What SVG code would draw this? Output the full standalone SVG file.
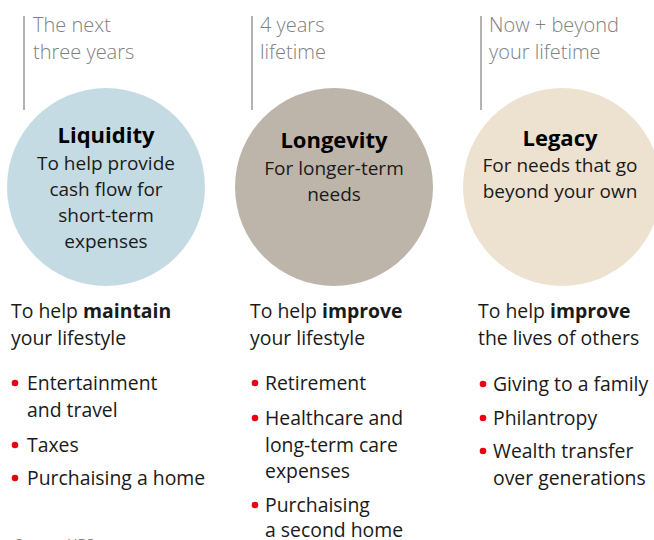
<svg xmlns="http://www.w3.org/2000/svg" width="654" height="540" viewBox="0 0 654 540">
<style>
  .hdr { font-family: "Open Sans", "Noto Sans", sans-serif; font-size: 20px; fill: #808080; font-weight: 300; }
  .title { font-family: "Open Sans", "Noto Sans", sans-serif; font-size: 22px; font-weight: 700; fill: #000; text-anchor: middle; }
  .sub { font-family: "Open Sans", "Noto Sans", sans-serif; font-size: 19px; fill: #1a1a1a; text-anchor: middle; }
  .body { font-family: "Open Sans", "Noto Sans", sans-serif; font-size: 19.4px; fill: #1a1a1a; }
  .src { font-family: "Open Sans", "Noto Sans", sans-serif; font-size: 14px; fill: #808080; }
  .vline { stroke: #b3b3b3; stroke-width: 2; }
  .dot { fill: #e60012; }
</style>
<g id="liquidity">
  <line class="vline" x1="24" y1="16" x2="24" y2="110"/>
  <text class="hdr" x="33" y="32">The next</text>
  <text class="hdr" x="33" y="59">three years</text>
  <circle cx="106" cy="187" r="99" fill="#c5dbe4"/>
  <text class="title" x="106" y="143">Liquidity</text>
  <text class="sub" x="106" y="170">To help provide</text>
  <text class="sub" x="106" y="196">cash flow for</text>
  <text class="sub" x="106" y="222">short-term</text>
  <text class="sub" x="106" y="248">expenses</text>
  <text class="body" x="11" y="318">To help <tspan font-weight="700">maintain</tspan></text>
  <text class="body" x="11" y="345">your lifestyle</text>
  <circle class="dot" cx="15" cy="383" r="3.3"/>
  <text class="body" x="27" y="390">Entertainment</text>
  <text class="body" x="27" y="417">and travel</text>
  <circle class="dot" cx="15" cy="445" r="3.3"/>
  <text class="body" x="27" y="452">Taxes</text>
  <circle class="dot" cx="15" cy="478" r="3.3"/>
  <text class="body" x="27" y="485">Purchaising a home</text>
</g>
<g id="longevity">
  <line class="vline" x1="252" y1="16" x2="252" y2="110"/>
  <text class="hdr" x="260" y="32">4 years</text>
  <text class="hdr" x="260" y="59">lifetime</text>
  <circle cx="334" cy="187" r="99" fill="#bdb5aa"/>
  <text class="title" x="334" y="148">Longevity</text>
  <text class="sub" x="334" y="175">For longer-term</text>
  <text class="sub" x="334" y="201">needs</text>
  <text class="body" x="250" y="318">To help <tspan font-weight="700">improve</tspan></text>
  <text class="body" x="250" y="345">your lifestyle</text>
  <circle class="dot" cx="255" cy="383" r="3.3"/>
  <text class="body" x="265" y="390">Retirement</text>
  <circle class="dot" cx="255" cy="418" r="3.3"/>
  <text class="body" x="265" y="425">Healthcare and</text>
  <text class="body" x="265" y="452">long-term care</text>
  <text class="body" x="265" y="478">expenses</text>
  <circle class="dot" cx="255" cy="505" r="3.3"/>
  <text class="body" x="265" y="512">Purchaising</text>
  <text class="body" x="265" y="537">a second home</text>
</g>
<g id="legacy">
  <line class="vline" x1="481" y1="16" x2="481" y2="110"/>
  <text class="hdr" x="489" y="32">Now + beyond</text>
  <text class="hdr" x="489" y="59">your lifetime</text>
  <circle cx="562" cy="187" r="99" fill="#ede1d0"/>
  <text class="title" x="560" y="146">Legacy</text>
  <text class="sub" x="560" y="172">For needs that go</text>
  <text class="sub" x="560" y="198">beyond your own</text>
  <text class="body" x="478" y="318">To help <tspan font-weight="700">improve</tspan></text>
  <text class="body" x="478" y="345">the lives of others</text>
  <circle class="dot" cx="483" cy="384" r="3.3"/>
  <text class="body" x="493" y="391">Giving to a family</text>
  <circle class="dot" cx="483" cy="418" r="3.3"/>
  <text class="body" x="493" y="425">Philantropy</text>
  <circle class="dot" cx="483" cy="451" r="3.3"/>
  <text class="body" x="493" y="458">Wealth transfer</text>
  <text class="body" x="493" y="485">over generations</text>
</g>
<g id="connectors"/>
<text class="src" x="15" y="549">Source: UBS</text>
</svg>
